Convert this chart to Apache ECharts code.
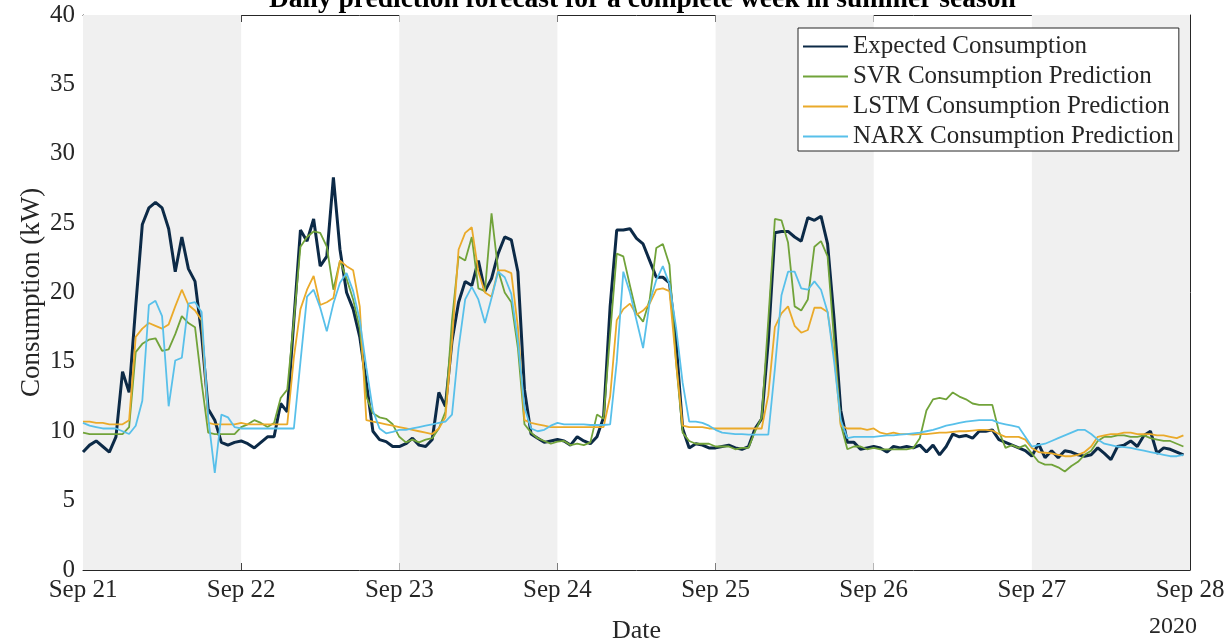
<!DOCTYPE html>
<html>
<head>
<meta charset="utf-8">
<script src="https://cdn.jsdelivr.net/npm/echarts@6/dist/echarts.min.js"></script>
<style>
html, body { margin: 0; background: #fff; }
#main { width: 1229px; height: 640px; }
</style>
</head>
<body>
<div id="main"></div>
<script type="text/javascript">
// tick labels on the date axis, one per day (hours 0, 24, ... 168)
var dayLabels = ['Sep 21', 'Sep 22', 'Sep 23', 'Sep 24', 'Sep 25', 'Sep 26', 'Sep 27', 'Sep 28'];
// days drawn with a grey background
var shadedDays = [0, 2, 4, 6];
var seriesNames = ['Expected Consumption', 'SVR Consumption Prediction', 'LSTM Consumption Prediction', 'NARX Consumption Prediction'];

// hourly values, one row per day
var expected = [
    8.5, 9.0, 9.3, 8.9, 8.5, 9.6, 14.3, 12.8, 19.0, 24.9, 26.1, 26.5, 26.1, 24.6, 21.5, 24.0, 21.7, 20.8, 17.0, 11.6, 10.8, 9.2, 9.0, 9.2,
    9.3, 9.1, 8.8, 9.2, 9.6, 9.6, 12.0, 11.4, 18.0, 24.5, 23.7, 25.3, 21.9, 22.6, 28.3, 23.1, 20.0, 18.8, 16.8, 13.5, 10.0, 9.4, 9.25, 8.9,
    8.9, 9.1, 9.5, 9.0, 8.9, 9.4, 12.8, 11.8, 16.5, 19.3, 20.8, 20.5, 22.3, 20.1, 21.0, 22.8, 24.0, 23.8, 21.5, 13.0, 9.8, 9.5, 9.2, 9.3,
    9.4, 9.3, 9.0, 9.6, 9.3, 9.1, 9.6, 11.0, 19.0, 24.5, 24.5, 24.6, 23.9, 23.5, 22.3, 21.1, 21.1, 20.7, 16.5, 10.2, 8.8, 9.1, 9.0, 8.8,
    8.8, 8.9, 9.0, 8.8, 8.7, 8.9, 10.2, 10.9, 16.5, 24.3, 24.4, 24.4, 24.0, 23.7, 25.4, 25.2, 25.5, 23.5, 18.0, 11.5, 9.2, 9.2, 8.7, 8.8,
    8.9, 8.8, 8.5, 8.9, 8.8, 8.9, 8.8, 9.0, 8.5, 9.0, 8.3, 8.9, 9.8, 9.6, 9.7, 9.5, 10.0, 10.0, 10.1, 9.4, 9.2, 9.0, 8.8, 8.6,
    8.2, 9.1, 8.1, 8.6, 8.1, 8.6, 8.5, 8.3, 8.2, 8.3, 8.8, 8.4, 7.95, 8.9, 9.0, 9.3, 8.9, 9.7, 10.0, 8.4, 8.8, 8.7, 8.5, 8.3
];
var svr = [
    9.9, 9.8, 9.8, 9.8, 9.8, 9.8, 9.8, 10.3, 15.7, 16.3, 16.6, 16.7, 15.8, 15.9, 17.0, 18.3, 17.8, 17.5, 13.5, 9.9, 9.8, 9.8, 9.8, 9.8,
    10.3, 10.5, 10.8, 10.6, 10.3, 10.6, 12.4, 13.0, 18.0, 23.3, 24.0, 24.4, 24.3, 23.3, 20.2, 22.3, 21.0, 19.5, 17.4, 12.5, 11.3, 11.0, 10.9, 10.5,
    9.6, 9.2, 9.4, 9.2, 9.4, 9.5, 10.2, 11.4, 18.0, 22.6, 22.3, 24.0, 20.3, 20.1, 25.7, 21.6, 20.0, 19.3, 16.0, 10.5, 9.9, 9.5, 9.3, 9.1,
    9.25, 9.3, 9.0, 9.1, 9.0, 9.2, 11.2, 10.9, 17.0, 22.8, 22.6, 20.5, 18.5, 17.9, 19.5, 23.2, 23.5, 22.0, 15.0, 9.9, 9.3, 9.1, 9.1, 9.1,
    8.9, 8.9, 8.9, 8.7, 8.8, 8.8, 10.0, 11.0, 18.0, 25.3, 25.2, 23.6, 19.0, 18.7, 19.5, 23.3, 23.7, 22.6, 16.5, 10.5, 8.7, 8.9, 8.9, 8.7,
    8.8, 8.7, 8.7, 8.7, 8.7, 8.7, 8.8, 9.5, 11.5, 12.3, 12.4, 12.3, 12.8, 12.5, 12.3, 12.0, 11.9, 11.9, 11.9, 10.0, 8.8, 9.0, 8.8, 9.0,
    8.4, 7.8, 7.6, 7.6, 7.4, 7.1, 7.5, 7.8, 8.3, 8.6, 9.3, 9.6, 9.6, 9.7, 9.7, 9.6, 9.6, 9.7, 9.5, 9.4, 9.3, 9.3, 9.1, 8.9
];
var lstm = [
    10.7, 10.7, 10.6, 10.6, 10.5, 10.5, 10.5, 10.8, 16.8, 17.4, 17.8, 17.6, 17.4, 17.7, 19.0, 20.2, 19.1, 18.7, 18.0, 10.6, 10.5, 10.5, 10.5, 10.5,
    10.6, 10.5, 10.5, 10.5, 10.5, 10.5, 10.5, 10.5, 15.3, 18.8, 20.2, 21.2, 19.1, 19.3, 19.6, 22.3, 21.9, 21.6, 19.0, 10.8, 10.7, 10.6, 10.5, 10.4,
    10.3, 10.2, 10.1, 10.0, 9.9, 9.8, 10.2, 11.0, 16.5, 23.1, 24.3, 24.7, 21.5, 20.0, 19.7, 21.6, 21.6, 21.4, 17.5, 10.8, 10.6, 10.5, 10.4, 10.3,
    10.3, 10.3, 10.3, 10.3, 10.3, 10.3, 10.3, 10.3, 12.5, 18.0, 18.8, 19.2, 18.4, 18.7, 19.2, 20.2, 20.3, 20.1, 15.0, 10.4, 10.3, 10.3, 10.3, 10.2,
    10.2, 10.2, 10.2, 10.2, 10.2, 10.2, 10.2, 10.2, 12.6, 17.5, 18.5, 19.0, 17.6, 17.1, 17.3, 18.9, 18.9, 18.6, 15.5, 10.4, 10.2, 10.2, 10.2, 10.1,
    10.2, 9.9, 9.8, 9.9, 9.8, 9.8, 9.75, 9.8, 9.8, 9.85, 9.9, 9.9, 9.95, 10.0, 10.0, 10.05, 10.1, 10.1, 10.05, 9.8, 9.6, 9.6, 9.6, 9.4,
    8.8, 8.5, 8.45, 8.4, 8.3, 8.2, 8.2, 8.3, 8.5, 8.9, 9.6, 9.7, 9.8, 9.8, 9.9, 9.9, 9.8, 9.8, 9.8, 9.7, 9.7, 9.6, 9.5, 9.7
];
var narx = [
    10.6, 10.4, 10.3, 10.2, 10.2, 10.2, 10.0, 9.8, 10.4, 12.2, 19.1, 19.4, 18.3, 11.8, 15.1, 15.3, 19.2, 19.3, 18.6, 11.0, 7.0, 11.2, 11.0, 10.3,
    10.2, 10.2, 10.2, 10.2, 10.2, 10.2, 10.2, 10.2, 10.2, 15.0, 19.7, 20.2, 18.9, 17.2, 19.2, 20.7, 21.4, 20.1, 18.0, 14.6, 11.5, 10.2, 9.85, 9.95,
    10.1, 10.1, 10.2, 10.3, 10.4, 10.5, 10.6, 10.7, 11.2, 16.0, 19.5, 20.4, 19.5, 17.8, 19.6, 21.5, 21.1, 19.9, 16.5, 11.7, 10.2, 10.0, 10.1, 10.4,
    10.6, 10.5, 10.5, 10.5, 10.5, 10.45, 10.45, 10.45, 10.5, 15.0, 21.5, 20.0, 18.0, 16.0, 19.3, 20.9, 21.9, 20.6, 17.5, 13.5, 10.7, 10.7, 10.6, 10.4,
    10.1, 9.9, 9.85, 9.8, 9.8, 9.75, 9.75, 9.75, 9.75, 14.5, 19.8, 21.5, 21.5, 20.3, 20.2, 20.8, 20.2, 18.6, 15.0, 10.8, 9.5, 9.6, 9.6, 9.6,
    9.6, 9.65, 9.7, 9.7, 9.75, 9.8, 9.85, 9.9, 10.0, 10.1, 10.25, 10.4, 10.5, 10.6, 10.7, 10.75, 10.8, 10.8, 10.8, 10.6, 10.5, 10.4, 10.3, 9.6,
    8.9, 9.0, 9.1, 9.3, 9.5, 9.7, 9.9, 10.1, 10.1, 9.8, 9.4, 9.1, 9.0, 8.9, 8.85, 8.8, 8.7, 8.6, 8.5, 8.4, 8.3, 8.2, 8.2, 8.3
];

var font = 'Liberation Serif, Times New Roman, serif';
var ink = '#262626';

function hourly(arr) {
    return arr.map(function (v, i) { return [i, v]; });
}

function lineSeries(name, data, color, width, z) {
    return {
        name: name,
        type: 'line',
        data: hourly(data),
        symbol: 'none',
        showSymbol: false,
        z: z,
        lineStyle: { color: color, width: width },
        itemStyle: { color: color }
    };
}

// MATLAB style box: ticks point into the plot on all four sides
function boxAxis(extra) {
    var a = {
        axisLine: { show: true, onZero: false, lineStyle: { color: ink, width: 1 } },
        axisTick: { show: true, inside: true, length: 7, lineStyle: { color: ink, width: 1 } },
        splitLine: { show: false }
    };
    for (var k in extra) a[k] = extra[k];
    return a;
}

var myChart = echarts.init(document.getElementById('main'));

option = {
    animation: false,
    backgroundColor: '#fff',
    title: {
        text: 'Daily prediction forecast for a complete week in summer season',
        left: 264,
        top: -19,
        textStyle: { fontFamily: font, fontSize: 27.5, fontWeight: 'bold', color: '#000' }
    },
    grid: { left: 83, top: 15, width: 1107, height: 555, outerBoundsMode: 'none' },
    legend: {
        data: seriesNames,
        orient: 'vertical',
        left: 798,
        top: 28,
        padding: [6, 5, 2, 4],
        itemWidth: 45,
        itemHeight: 14,
        itemGap: 5,
        backgroundColor: '#fff',
        borderColor: ink,
        borderWidth: 1,
        borderRadius: 0,
        itemStyle: { opacity: 0 },
        textStyle: { fontFamily: font, fontSize: 25, lineHeight: 25, color: ink }
    },
    xAxis: [
        boxAxis({
            type: 'value', min: 0, max: 168, interval: 24,
            name: 'Date', nameLocation: 'middle', nameGap: 48, nameMoveOverlap: false,
            nameTextStyle: { fontFamily: font, fontSize: 26, color: ink },
            axisLabel: {
                fontFamily: font, fontSize: 25, color: ink, margin: 8,
                formatter: function (v) { return dayLabels[v / 24]; }
            }
        }),
        boxAxis({
            type: 'value', min: 0, max: 168, interval: 24, position: 'top',
            axisLabel: { show: false }
        })
    ],
    yAxis: [
        boxAxis({
            type: 'value', min: 0, max: 40, interval: 5,
            name: 'Consumption (kW)', nameLocation: 'middle', nameGap: 38, nameMoveOverlap: false,
            nameTextStyle: { fontFamily: font, fontSize: 27, color: ink },
            axisLabel: { fontFamily: font, fontSize: 25, color: ink, margin: 8 }
        }),
        boxAxis({
            type: 'value', min: 0, max: 40, interval: 5, position: 'right',
            axisLabel: { show: false }
        })
    ],
    graphic: [{
        type: 'text',
        left: 1149,
        top: 615,
        style: { text: '2020', font: '24px ' + font, fill: ink }
    }],
    series: [
        {
            name: 'bands',
            type: 'line',
            data: [],
            z: 1,
            silent: true,
            markArea: {
                silent: true,
                itemStyle: { color: '#f0f0f0' },
                data: shadedDays.map(function (d) {
                    return [{ xAxis: d * 24 }, { xAxis: d * 24 + 24 }];
                })
            }
        },
        lineSeries(seriesNames[0], expected, '#0c2a47', 3, 3),
        lineSeries(seriesNames[1], svr, '#71a33a', 1.8, 4),
        lineSeries(seriesNames[2], lstm, '#eaaa2a', 1.8, 5),
        lineSeries(seriesNames[3], narx, '#58c0ea', 1.8, 6)
    ]
};

myChart.setOption(option);
</script>
</body>
</html>
